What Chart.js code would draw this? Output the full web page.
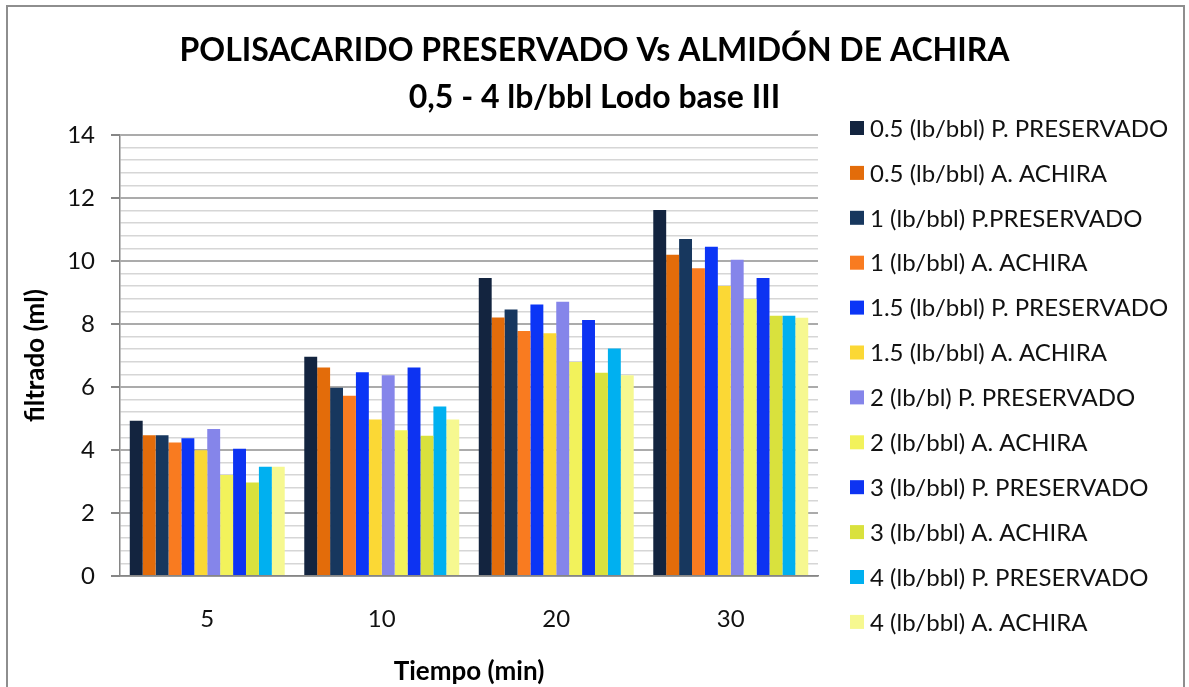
<!DOCTYPE html>
<html>
<head>
<meta charset="utf-8">
<script src="https://cdn.jsdelivr.net/npm/chart.js@4/dist/chart.umd.min.js"></script>
<style>
  html, body { margin: 0; padding: 0; background: #fff; overflow: hidden; }
  #wrap { position: relative; width: 1189px; height: 687px; }
  #frame { position: absolute; left: 6px; top: 5px; width: 1179px; height: 720px;
           border: 2px solid #8e8e8e; box-sizing: border-box; pointer-events: none; }
</style>
</head>
<body>
<div id="wrap">
  <canvas id="chart" width="1189" height="687"></canvas>
  <div id="frame"></div>
</div>
<script>
// ─── Data ───────────────────────────────────────────────────────────────────
const categories = ['5', '10', '20', '30'];   // Tiempo (min)

const p05 = [4.93, 6.96, 9.46, 11.62];
const a05 = [4.47, 6.62, 8.21, 10.20];
const p1  = [4.47, 5.98, 8.46, 10.70];
const a1  = [4.24, 5.72, 7.78, 9.77];
const p15 = [4.37, 6.47, 8.62, 10.45];
const a15 = [3.99, 4.97, 7.71, 9.21];
const p2  = [4.67, 6.37, 8.71, 10.04];
const a2  = [3.21, 4.63, 6.79, 8.79];
const p3  = [4.04, 6.62, 8.13, 9.46];
const a3  = [2.97, 4.45, 6.45, 8.26];
const p4  = [3.47, 5.38, 7.22, 8.26];
const a4  = [3.47, 4.97, 6.37, 8.20];

const seriesLabels = [
  '0.5 (lb/bbl) P. PRESERVADO', '0.5 (lb/bbl) A. ACHIRA',
  '1 (lb/bbl) P.PRESERVADO',    '1 (lb/bbl) A. ACHIRA',
  '1.5 (lb/bbl) P. PRESERVADO', '1.5 (lb/bbl) A. ACHIRA',
  '2 (lb/bl) P. PRESERVADO',    '2 (lb/bbl) A. ACHIRA',
  '3 (lb/bbl) P. PRESERVADO',   '3 (lb/bbl) A. ACHIRA',
  '4 (lb/bbl) P. PRESERVADO',   '4 (lb/bbl) A. ACHIRA',
];
const seriesValues = [p05, a05, p1, a1, p15, a15, p2, a2, p3, a3, p4, a4];
const seriesColors = [
  '#13243f', '#e36c0a', '#17375e', '#f97b20', '#0b35f6', '#fbd835',
  '#8585ea', '#f2f25b', '#0d33f2', '#d9e13d', '#00b0f0', '#f6f890',
];

const yMin = 0, yMax = 14, yMajor = 2, yMinor = 0.4;

// ─── Styling ────────────────────────────────────────────────────────────────
const TXT = "Lato, 'Liberation Sans', sans-serif";
const isMajor = v => Math.abs(v / yMajor - Math.round(v / yMajor)) < 1e-6;

// legend drawn on the right, one row per dataset
const sideLegend = {
  id: 'sideLegend',
  afterDraw(chart) {
    const { ctx, chartArea } = chart;
    const x0 = chartArea.right + 32;
    const y0 = chartArea.top - 7;
    const step = 44.9;
    ctx.save();
    ctx.font = '24px ' + TXT;
    ctx.textBaseline = 'middle';
    chart.data.datasets.forEach((ds, i) => {
      const y = y0 + i * step;
      ctx.fillStyle = ds.backgroundColor;
      ctx.fillRect(x0, y - 7, 14, 14);
      ctx.fillStyle = '#111';
      ctx.fillText(ds.label, x0 + 20, y + 1);
    });
    ctx.restore();
  }
};

new Chart(document.getElementById('chart'), {
  type: 'bar',
  data: {
    labels: categories,
    datasets: seriesValues.map((vals, i) => ({
      label: seriesLabels[i],
      data: vals,
      backgroundColor: seriesColors[i],
      borderWidth: 0,
      categoryPercentage: 0.888,
      barPercentage: 1,
    })),
  },
  options: {
    responsive: false,
    animation: false,
    layout: { padding: 0 },
    plugins: {
      legend: { display: false },
      tooltip: { enabled: false },
      title: {
        display: true,
        text: ['POLISACARIDO PRESERVADO Vs ALMIDÓN DE ACHIRA', '0,5 - 4 lb/bbl Lodo base III'],
        color: '#000',
        font: { family: TXT, size: 32, weight: 'bold', lineHeight: '47px' },
        padding: { top: 27, bottom: 14 },
      },
    },
    scales: {
      x: {
        grid: { display: false, drawTicks: false },
        border: { display: true, color: '#868686', width: 1.5 },
        ticks: { color: '#111', font: { family: TXT, size: 24 }, padding: 29 },
        title: {
          display: true, text: 'Tiempo (min)', color: '#000',
          font: { family: TXT, size: 26, weight: 'bold' },
          padding: { top: 0, bottom: 0 },
        },
        afterFit: s => { s.height = 111; },
      },
      y: {
        min: yMin, max: yMax,
        grid: {
          color: c => isMajor(c.tick.value) ? '#ababab' : '#d6d6d6',
          lineWidth: c => isMajor(c.tick.value) ? 2 : 1.5,
          tickColor: c => isMajor(c.tick.value) ? '#868686' : 'rgba(0,0,0,0)',
          tickLength: 9,
        },
        border: { display: true, color: '#868686', width: 1.5 },
        ticks: {
          stepSize: yMinor, autoSkip: false,
          color: '#111', font: { family: TXT, size: 24 }, padding: 16,
          callback: v => isMajor(v) ? String(Math.round(v)) : '',
        },
        title: {
          display: true, text: 'filtrado (ml)', color: '#000',
          font: { family: TXT, size: 26, weight: 'bold' },
          padding: { top: 20, bottom: 0 },
        },
        afterFit: s => { s.width = 120; },
      },
      // empty box on the right that holds the legend room
      legendRoom: {
        type: 'linear', position: 'right', display: true,
        grid: { display: false, drawTicks: false },
        border: { display: false },
        ticks: { display: false },
        afterFit: s => { s.width = 371; },
      },
    },
  },
  plugins: [sideLegend],
});
</script>
</body>
</html>
